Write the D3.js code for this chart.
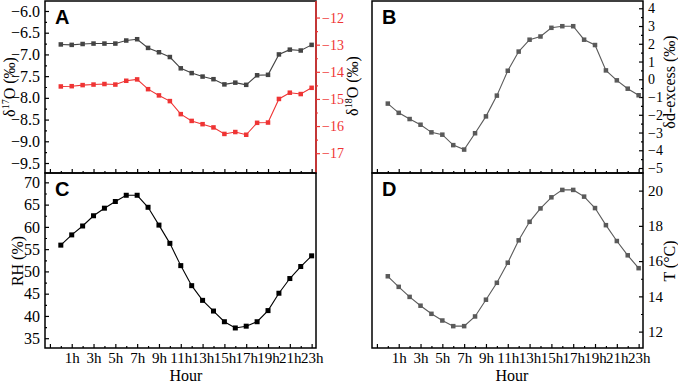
<!DOCTYPE html>
<html>
<head>
<meta charset="utf-8">
<script src="https://cdn.jsdelivr.net/npm/d3@7"></script>
<style>
  body { margin: 0; background: #fff; }
  svg { display: block; }
</style>
</head>
<body>
<svg id="chart" width="678" height="384"></svg>
<script>
// hours of the day (x categories)
const hours = [0,1,2,3,4,5,6,7,8,9,10,11,12,13,14,15,16,17,18,19,20,21,22,23];
const xTicks = [-1,1,3,5,7,9,11,13,15,17,19,21,23];
const xMinor = [0,2,4,6,8,10,12,14,16,18,20,22];

// panel A
const d17O = [-6.77,-6.78,-6.76,-6.75,-6.75,-6.75,-6.68,-6.65,-6.85,-6.95,-7.06,-7.32,
              -7.43,-7.51,-7.57,-7.69,-7.65,-7.70,-7.48,-7.47,-7.00,-6.89,-6.91,-6.78];
const d18O = [-14.54,-14.53,-14.49,-14.47,-14.45,-14.47,-14.33,-14.28,-14.64,-14.87,-15.08,-15.56,
              -15.81,-15.93,-16.05,-16.29,-16.22,-16.32,-15.88,-15.87,-15.00,-14.77,-14.82,-14.59];
// panel B
const dExcess = [-1.37,-1.89,-2.24,-2.56,-2.99,-3.12,-3.71,-3.96,-3.04,-2.09,-0.92,0.48,
                 1.56,2.23,2.41,2.90,2.99,2.99,2.23,1.93,0.50,-0.06,-0.53,-0.90];
// panel C
const rh = [55.9,58.2,60.2,62.5,64.2,65.7,67.1,67.1,64.4,60.4,56.3,51.3,
            46.8,43.5,41.1,38.7,37.3,37.7,38.7,41.2,45.1,48.4,51.1,53.5];
// panel D
const temp = [15.14,14.54,13.97,13.47,13.01,12.63,12.31,12.31,12.86,13.81,14.77,15.91,
              17.18,18.23,18.99,19.62,20.04,20.04,19.66,19.01,18.04,17.14,16.33,15.60];

const tick17 = [-9.5,-9.0,-8.5,-8.0,-7.5,-7.0,-6.5,-6.0];
const tick18 = [-17,-16,-15,-14,-13,-12];
const tickEx = [-5,-4,-3,-2,-1,0,1,2,3,4];
const tickRH = [35,40,45,50,55,60,65,70];
const tickT = [12,14,16,18,20];

const svg = d3.select("#chart");
const red = "#ef3434";
const serif = "'Liberation Serif', 'Times New Roman', serif";

const colL = {x0:45, x1:316}, colR = {x0:372, x1:643};
const rowT = {y0:1, y1:173}, rowB = {y0:173, y1:348};

function xScale(p){
    return d3.scaleLinear().domain([-1.45,23.4]).range([p.x0,p.x1]);
}

function minorOf(ticks){
    let out = [];
    for(let i=0;i<ticks.length-1;i++) out.push((ticks[i]+ticks[i+1])/2);
    return out;
}

function drawAxis(g, axis, color, fs){
    g.call(axis);
    g.select(".domain").remove();
    g.selectAll("line").attr("stroke",color).attr("stroke-width",1.2);
    g.selectAll("text").attr("fill",color)
        .style("font-family",serif).style("font-size",(fs||15)+"px");
}

function series(g, x, y, data, color, size){
    const line = d3.line().x((d,i)=>x(hours[i])).y(d=>y(d));
    g.append("path").datum(data)
        .attr("d",line).attr("fill","none")
        .attr("stroke",color).attr("stroke-width",1.1);
    g.selectAll(null).data(data).enter().append("rect")
        .attr("x",(d,i)=>x(hours[i])-size/2)
        .attr("y",d=>y(d)-size/2)
        .attr("width",size).attr("height",size)
        .attr("fill",color);
}

function panel(px, py, opts){
    const g = svg.append("g");
    const x = xScale(px);
    const y = d3.scaleLinear().domain(opts.domain).range([py.y1,py.y0]);

    // x ticks (inward from the bottom edge)
    const xa = g.append("g").attr("transform",`translate(0,${py.y1})`);
    drawAxis(xa, d3.axisBottom(x).tickValues(xTicks).tickSize(-4).tickPadding(4)
        .tickFormat(d => (opts.xLabels && d>0) ? d+"h" : ""), "#000", 15);
    const xm = g.append("g").attr("transform",`translate(0,${py.y1})`);
    drawAxis(xm, d3.axisBottom(x).tickValues(xMinor).tickSize(-2).tickFormat(""), "#000");

    // y axis
    const side = opts.side;
    const ax = side==="left" ? d3.axisLeft : d3.axisRight;
    const pos = side==="left" ? px.x0 : px.x1;
    const ya = g.append("g").attr("transform",`translate(${pos},0)`);
    drawAxis(ya, ax(y).tickValues(opts.ticks).tickSize(-4).tickPadding(5)
        .tickFormat(opts.fmt), "#000", opts.fs);
    const ym = g.append("g").attr("transform",`translate(${pos},0)`);
    drawAxis(ym, ax(y).tickValues(minorOf(opts.ticks)).tickSize(-2).tickFormat(""), "#000");

    // frame
    g.append("rect")
        .attr("x",px.x0).attr("y",py.y0)
        .attr("width",px.x1-px.x0).attr("height",py.y1-py.y0)
        .attr("fill","none").attr("stroke","#000").attr("stroke-width",1.5);

    // panel letter
    g.append("text")
        .attr("x",px.x0+10).attr("y",py.y0+23)
        .style("font-family","'Liberation Sans', Arial, sans-serif")
        .style("font-weight","bold").style("font-size","20px")
        .text(opts.letter);

    return {g:g, x:x, y:y};
}

function yTitle(xpos, ypos, parts){
    const t = svg.append("text")
        .attr("transform",`translate(${xpos},${ypos}) rotate(-90)`)
        .attr("text-anchor","middle")
        .style("font-family",serif).style("font-size","16px");
    parts.forEach(p=>{
        const s = t.append("tspan").text(p.t);
        if(p.sup){ s.style("font-size","10px").attr("dy",-6); }
        if(p.back){ s.attr("dy",6); }
    });
}

// ---- A
const pA = panel(colL, rowT, {domain:[-9.73,-5.77], ticks:tick17, side:"left",
    fmt:d3.format(".1f"), letter:"A", fs:16});
// red right axis for d18O
const y18 = d3.scaleLinear().domain([-17.73,-11.39]).range([rowT.y1,rowT.y0]);
const ra = svg.append("g").attr("transform",`translate(${colL.x1},0)`);
drawAxis(ra, d3.axisRight(y18).tickValues(tick18).tickSize(4).tickPadding(2)
    .tickFormat(d3.format("d")), red, 14);
const rm = svg.append("g").attr("transform",`translate(${colL.x1},0)`);
drawAxis(rm, d3.axisRight(y18).tickValues(minorOf(tick18)).tickSize(2).tickFormat(""), red);
svg.append("line").attr("x1",colL.x1).attr("x2",colL.x1)
    .attr("y1",rowT.y0).attr("y2",rowT.y1)
    .attr("stroke",red).attr("stroke-width",1.5);
series(pA.g, pA.x, pA.y, d17O, "#444", 4.5);
series(pA.g, pA.x, y18, d18O, red, 4.5);

// ---- B
const pB = panel(colR, rowT, {domain:[-5.28,4.41], ticks:tickEx, side:"right",
    fmt:d3.format("d"), letter:"B", fs:14});
series(pB.g, pB.x, pB.y, dExcess, "#5a5a5a", 4.5);

// ---- C
const pC = panel(colL, rowB, {domain:[32.8,72.1], ticks:tickRH, side:"left",
    fmt:d3.format("d"), letter:"C", xLabels:true, fs:16});
series(pC.g, pC.x, pC.y, rh, "#000", 5);

// ---- D
const pD = panel(colR, rowB, {domain:[11.07,21.0], ticks:tickT, side:"right",
    fmt:d3.format("d"), letter:"D", xLabels:true, fs:15});
series(pD.g, pD.x, pD.y, temp, "#5a5a5a", 4.5);

// axis titles
yTitle(15, 87, [{t:"δ"},{t:"17",sup:true},{t:"O (‰)",back:true}]);
yTitle(358, 86, [{t:"δ"},{t:"18",sup:true},{t:"O (‰)",back:true}]);
yTitle(675, 82, [{t:"δd-excess (‰)"}]);
yTitle(23, 261, [{t:"RH (%)"}]);
yTitle(675, 261, [{t:"T (°C)"}]);

svg.append("text").attr("x",186).attr("y",381).attr("text-anchor","middle")
    .style("font-family",serif).style("font-size","16px").text("Hour");
svg.append("text").attr("x",512).attr("y",381).attr("text-anchor","middle")
    .style("font-family",serif).style("font-size","16px").text("Hour");
</script>
</body>
</html>
